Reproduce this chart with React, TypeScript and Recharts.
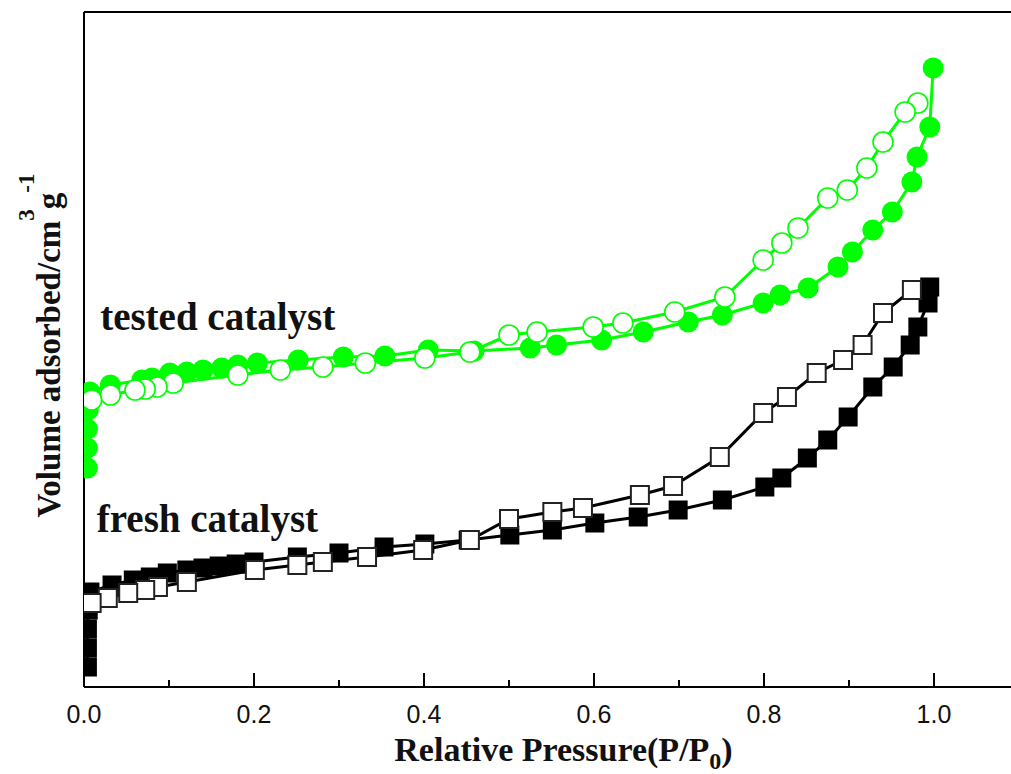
import React from 'react';
import { ScatterChart, Scatter, XAxis, YAxis, ReferenceLine, ReferenceDot } from 'recharts';

interface Pt {
  x: number;
  y: number;
}

// relative pressure / volume adsorbed (arbitrary units, offset curves)
const freshAdsP = [0.004, 0.004, 0.004, 0.005, 0.007, 0.033, 0.058, 0.078, 0.098, 0.121, 0.14, 0.159, 0.179, 0.2, 0.251, 0.3, 0.353, 0.401, 0.452, 0.501, 0.551, 0.601, 0.652, 0.699, 0.751, 0.801, 0.821, 0.851, 0.875, 0.899, 0.928, 0.952, 0.972, 0.981, 0.993, 0.995];
const freshAdsV = [4.0, 7.8, 11.6, 15.4, 19.0, 20.4, 21.4, 22.0, 22.8, 23.4, 23.8, 24.2, 24.6, 25.0, 26.0, 26.8, 28.0, 28.6, 29.4, 30.4, 31.4, 32.8, 34.0, 35.4, 37.4, 40.0, 41.8, 45.8, 49.4, 54.0, 60.0, 64.0, 68.4, 72.0, 76.8, 80.0];

const freshDesP = [0.974, 0.94, 0.916, 0.893, 0.862, 0.827, 0.799, 0.748, 0.693, 0.654, 0.587, 0.551, 0.5, 0.454, 0.399, 0.333, 0.281, 0.251, 0.201, 0.121, 0.087, 0.072, 0.052, 0.028, 0.009];
const freshDesV = [79.4, 74.8, 68.4, 65.4, 62.8, 58.0, 54.8, 46.0, 40.2, 38.4, 35.8, 35.0, 33.6, 29.4, 27.4, 26.0, 25.0, 24.4, 23.4, 21.0, 20.0, 19.4, 18.8, 17.8, 16.8];

const testedAdsP = [0.004, 0.004, 0.004, 0.005, 0.007, 0.031, 0.068, 0.08, 0.101, 0.121, 0.14, 0.162, 0.181, 0.204, 0.252, 0.305, 0.354, 0.405, 0.459, 0.525, 0.556, 0.609, 0.658, 0.711, 0.751, 0.799, 0.819, 0.852, 0.887, 0.904, 0.928, 0.951, 0.974, 0.98, 0.995, 0.999];
const testedAdsV = [43.8, 47.8, 51.6, 55.4, 59.0, 60.4, 61.4, 61.8, 62.8, 63.0, 63.4, 63.8, 64.4, 64.8, 65.4, 66.0, 66.2, 67.4, 67.2, 67.8, 68.4, 69.4, 71.0, 73.0, 74.4, 76.8, 78.4, 79.8, 84.0, 87.0, 91.4, 95.0, 101.0, 106.0, 112.0, 123.8];

const testedDesP = [0.981, 0.966, 0.94, 0.921, 0.898, 0.875, 0.84, 0.821, 0.799, 0.754, 0.695, 0.634, 0.599, 0.533, 0.5, 0.454, 0.401, 0.331, 0.281, 0.231, 0.181, 0.105, 0.086, 0.072, 0.06, 0.031, 0.009];
const testedDesV = [116.8, 115.0, 109.0, 103.8, 99.4, 97.8, 91.8, 88.8, 85.4, 78.0, 75.0, 72.8, 72.0, 71.0, 70.4, 67.0, 65.8, 64.8, 64.0, 63.4, 62.4, 60.8, 60.0, 59.6, 59.4, 58.4, 57.4];

const xTicks = [0, 0.1, 0.2, 0.3, 0.4, 0.5, 0.6, 0.7, 0.8, 0.9, 1.0];
const xMax = 1.0906;
const yMax = 135;

const testedLabel = { x: 0.019, y: 71.4, text: 'tested catalyst' };
const freshLabel = { x: 0.015, y: 31.0, text: 'fresh catalyst' };

const toPts = (xs: number[], ys: number[]): Pt[] => xs.map((x, i) => ({ x, y: ys[i] }));

const GREEN = '#00ff00';
const SERIF = '"Liberation Serif", "Times New Roman", serif';
const SANS = '"Liberation Sans", Arial, sans-serif';

const FilledSquare = (p: any) => (
  <rect x={p.cx - 9.5} y={p.cy - 9.5} width={19} height={19} fill="#000" />
);
const OpenSquare = (p: any) => (
  <rect x={p.cx - 9} y={p.cy - 9} width={18} height={18} fill="#fff" stroke="#222" strokeWidth={2} />
);
const FilledCircle = (p: any) => <circle cx={p.cx} cy={p.cy} r={10.5} fill={GREEN} />;
const OpenCircle = (p: any) => (
  <circle cx={p.cx} cy={p.cy} r={10} fill="#fff" stroke={GREEN} strokeWidth={1.6} />
);

const renderXTick = (props: any) => {
  const { x, y, payload } = props;
  const v: number = payload.value;
  const major = Math.round(v * 10) % 2 === 0;
  return (
    <g>
      <line x1={x} x2={x} y1={y} y2={y - (major ? 14 : 7)} stroke="#000" strokeWidth={2} />
      {major && (
        <text x={x} y={y + 36} textAnchor="middle" fontFamily={SANS} fontSize={25} fill="#111">
          {v.toFixed(1)}
        </text>
      )}
    </g>
  );
};

const xLabel = (props: any) => {
  const vb = props.viewBox;
  return (
    <text x={vb.x + vb.width / 2 + 16} y={vb.y + 74} textAnchor="middle" fontFamily={SERIF} fontWeight="bold" fontSize={34} fill="#111">
      Relative Pressure(P/P
      <tspan fontSize={24} dy={8}>0</tspan>
      <tspan dy={-8}>)</tspan>
    </text>
  );
};

const yLabel = (props: any) => {
  const vb = props.viewBox;
  const bx = 60;
  const cy = vb.y + vb.height / 2 - 4;
  return (
    <text x={bx} y={cy} transform={`rotate(-90, ${bx}, ${cy})`} textAnchor="middle" fontFamily={SERIF} fontWeight="bold" fontSize={33} fill="#111">
      Volume adsorbed/cm
      <tspan fontSize={23} dy={-26}>3</tspan>
      <tspan dy={26}>g</tspan>
      <tspan fontSize={23} dy={-26}>-1</tspan>
    </text>
  );
};

const annot = (text: string) => (props: any) => {
  const vb = props.viewBox;
  return (
    <text x={vb.x} y={vb.y} fontFamily={SERIF} fontWeight="bold" fontSize={39} fill="#111">
      {text}
    </text>
  );
};

export default function App() {
  return (
    <div style={{ position: 'absolute', left: 0, top: 0, width: 1011, height: 774, background: '#fff' }}>
      <ScatterChart width={1011} height={774} margin={{ top: 12, right: 0, left: 0, bottom: 27 }}>
        <XAxis
          type="number"
          dataKey="x"
          domain={[0, xMax]}
          ticks={xTicks}
          allowDataOverflow
          height={60}
          tickSize={0}
          tickMargin={0}
          tickLine={false}
          axisLine={{ stroke: '#000', strokeWidth: 2 }}
          tick={renderXTick}
          label={{ content: xLabel }}
        />
        <YAxis
          type="number"
          dataKey="y"
          domain={[0, yMax]}
          allowDataOverflow
          width={84}
          tick={false}
          tickLine={false}
          axisLine={{ stroke: '#000', strokeWidth: 2 }}
          label={{ content: yLabel }}
        />
        <ReferenceLine y={yMax} stroke="#000" strokeWidth={2} ifOverflow="visible" />
        <Scatter
          data={toPts(freshAdsP, freshAdsV)}
          line={{ stroke: '#000', strokeWidth: 3 }}
          lineType="joint"
          shape={FilledSquare}
          isAnimationActive={false}
        />
        <Scatter
          data={toPts(freshDesP, freshDesV)}
          line={{ stroke: '#000', strokeWidth: 3 }}
          lineType="joint"
          shape={OpenSquare}
          isAnimationActive={false}
        />
        <Scatter
          data={toPts(testedAdsP, testedAdsV)}
          line={{ stroke: GREEN, strokeWidth: 3 }}
          lineType="joint"
          shape={FilledCircle}
          isAnimationActive={false}
        />
        <Scatter
          data={toPts(testedDesP, testedDesV)}
          line={{ stroke: GREEN, strokeWidth: 3 }}
          lineType="joint"
          shape={OpenCircle}
          isAnimationActive={false}
        />
        <ReferenceDot x={testedLabel.x} y={testedLabel.y} r={0} fill="none" stroke="none" ifOverflow="visible" label={{ content: annot(testedLabel.text) }} />
        <ReferenceDot x={freshLabel.x} y={freshLabel.y} r={0} fill="none" stroke="none" ifOverflow="visible" label={{ content: annot(freshLabel.text) }} />
      </ScatterChart>
    </div>
  );
}
